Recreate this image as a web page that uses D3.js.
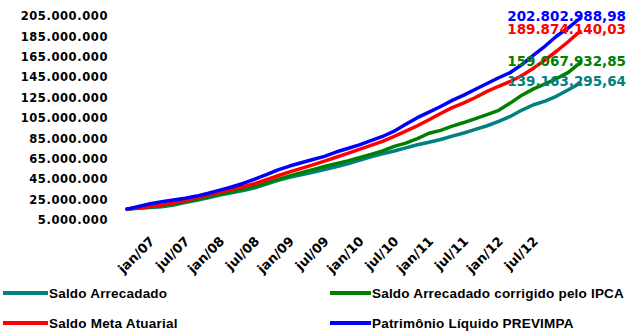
<!DOCTYPE html>
<html><head><meta charset="utf-8">
<script src="https://cdn.jsdelivr.net/npm/d3@7/dist/d3.min.js"></script>
<style>
html,body{margin:0;padding:0;background:#fff;}
svg{display:block;}
</style></head>
<body><svg id="c" width="630" height="332"></svg>
<script>
// month index (every 2 months), month 0 = set/06
const months = d3.range(0, 79, 2);
const tickMonths = d3.range(4, 71, 6);
const tickLabels = ["jan/07","jul/07","jan/08","jul/08","jan/09","jul/09","jan/10","jul/10","jan/11","jul/11","jan/12","jul/12"];
const yTicks = [5e6,25e6,45e6,65e6,85e6,105e6,125e6,145e6,165e6,185e6,205e6];

const seriesNames = ["Saldo Arrecadado","Saldo Arrecadado corrigido pelo IPCA","Saldo Meta Atuarial","Patrimônio Líquido PREVIMPA"];
const seriesColors = ["#008080","#008000","#ff0000","#0000ff"];
// values in millions of R$
const saldoArrecadado = [15.68,16.46,17.25,18.03,19.79,22.01,24.34,26.86,29.35,31.69,33.96,36.65,40.18,43.90,46.88,49.37,51.87,54.51,57.23,60.04,63.45,66.85,69.89,72.60,75.73,78.71,81.18,83.91,87.20,90.34,93.83,97.40,101.59,106.55,112.77,117.99,121.61,126.49,132.64,139.16];
const saldoIPCA = [15.68,16.72,17.77,18.81,20.54,22.82,25.31,27.83,30.32,32.71,35.41,37.69,41.15,44.81,48.25,51.33,54.35,57.45,60.22,62.95,66.08,69.38,72.70,77.18,80.42,84.84,90.05,92.90,97.05,100.55,104.38,108.37,112.52,119.62,127.38,133.54,138.48,143.67,149.76,159.07];
const saldoMeta = [15.68,16.99,18.29,19.60,21.60,24.14,26.84,29.54,32.26,35.03,37.55,40.58,44.46,48.40,52.15,55.68,59.11,62.69,66.51,70.27,74.20,78.19,82.13,86.92,92.06,97.42,103.25,109.43,115.18,119.91,125.13,131.08,136.11,140.84,146.65,153.86,162.01,170.70,180.01,189.87];
const patrimonio = [15.68,18.29,20.90,22.85,24.59,26.33,28.45,31.20,34.25,37.34,40.82,45.16,49.51,54.19,57.89,61.16,64.30,67.41,71.62,75.10,78.59,82.89,86.89,92.05,98.76,105.32,110.82,116.28,122.25,127.49,133.15,138.82,144.48,149.54,157.33,166.55,175.58,185.43,193.45,202.80];
const finalValues = [139163295.64,159067932.85,189874140.03,202802988.98];

const allSeries = [saldoArrecadado, saldoIPCA, saldoMeta, patrimonio];

const loc = d3.formatLocale({decimal:",",thousands:".",grouping:[3],currency:["R$ ",""]});
const fmtInt = loc.format(",.0f");
const fmtDec = loc.format(",.2f");

const svg = d3.select("#c");
const x = d3.scaleLinear().domain([0,78]).range([127,580]);
const y = d3.scaleLinear().domain([5e6,205e6]).range([220,16]);

// y axis
const ya = svg.append("g").attr("transform","translate(108,0)")
  .call(d3.axisLeft(y).tickValues(yTicks).tickSize(0).tickPadding(0).tickFormat(fmtInt));
ya.select(".domain").remove();
ya.selectAll("text").attr("font-family","DejaVu Sans").attr("font-weight","bold")
  .attr("font-size","11.5px").attr("letter-spacing","0.6px").attr("fill","#000");

// x axis labels
const xa = svg.append("g").attr("transform","translate(0,233)")
  .call(d3.axisBottom(x).tickValues(tickMonths).tickSize(0).tickPadding(0)
    .tickFormat((d,i)=>tickLabels[i]));
xa.select(".domain").remove();
xa.selectAll("text").attr("font-family","DejaVu Sans").attr("font-weight","bold")
  .attr("font-size","13px").attr("fill","#000")
  .attr("text-anchor","end").attr("dy","0.75em").attr("dx","-3")
  .attr("transform","rotate(-45)");

// lines
const line = d3.line().x((d,i)=>x(months[i])).y(d=>y(d*1e6)).curve(d3.curveLinear);
allSeries.forEach((s,i)=>{
  svg.append("path").datum(s).attr("d",line).attr("fill","none")
    .attr("stroke",seriesColors[i]).attr("stroke-width",3.5)
    .attr("stroke-linejoin","round").attr("stroke-linecap","round");
});

// end value labels
finalValues.forEach((v,i)=>{
  svg.append("text").attr("x",626).attr("y",y(v)+3)
    .attr("text-anchor","end").attr("font-family","DejaVu Sans").attr("font-weight","bold")
    .attr("font-size","13.5px").attr("fill",seriesColors[i]).text(fmtDec(v));
});

// legend
const legendPos = [[3,293,45],[330,293,41],[3,323,45],[330,323,41]];
seriesNames.forEach((n,i)=>{
  const [lx,ly,len] = legendPos[i];
  svg.append("line").attr("x1",lx).attr("x2",lx+len).attr("y1",ly).attr("y2",ly)
    .attr("stroke",seriesColors[i]).attr("stroke-width",4);
  svg.append("text").attr("x",lx+len+1).attr("y",ly+5).attr("font-family","Liberation Sans")
    .attr("font-weight","bold").attr("font-size","13.5px").attr("letter-spacing","0.2px")
    .attr("fill","#000").text(n);
});
</script></body></html>
